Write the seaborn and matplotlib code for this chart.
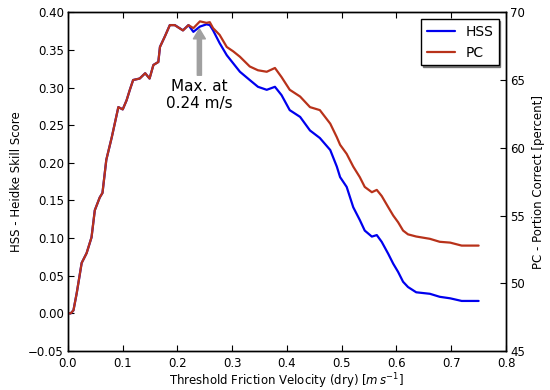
import matplotlib
matplotlib.use("Agg")
import matplotlib.pyplot as plt
import seaborn as sns
import numpy as np

sns.set_style("ticks", {"xtick.direction": "in", "ytick.direction": "in",
                        "text.color": "black", "axes.labelcolor": "black",
                        "xtick.color": "black", "ytick.color": "black"})
plt.rcParams['font.family'] = ['DejaVu Sans']

# threshold friction velocity (m/s)
u_thresh = [0.0, 0.005, 0.01, 0.016, 0.025, 0.034, 0.043, 0.049, 0.058, 0.063,
            0.07, 0.08, 0.092, 0.1, 0.107, 0.113, 0.119, 0.131, 0.141, 0.149,
            0.156, 0.165, 0.168, 0.177, 0.186, 0.195, 0.21, 0.22, 0.229, 0.241,
            0.253, 0.259, 0.265, 0.277, 0.29, 0.302, 0.314, 0.332, 0.347, 0.363,
            0.378, 0.39, 0.405, 0.424, 0.442, 0.46, 0.479, 0.491, 0.497, 0.509,
            0.521, 0.533, 0.542, 0.555, 0.564, 0.573, 0.585, 0.594, 0.603, 0.612,
            0.621, 0.636, 0.661, 0.679, 0.698, 0.719, 0.75]

# Heidke skill score
hss = [0.0, 0.0, 0.004, 0.027, 0.067, 0.08, 0.101, 0.137, 0.154, 0.16,
       0.204, 0.234, 0.274, 0.271, 0.283, 0.297, 0.31, 0.312, 0.319, 0.312,
       0.33, 0.334, 0.354, 0.368, 0.383, 0.383, 0.376, 0.383, 0.374, 0.381,
       0.384, 0.383, 0.376, 0.359, 0.343, 0.332, 0.321, 0.31, 0.301, 0.297,
       0.301, 0.29, 0.27, 0.261, 0.243, 0.233, 0.217, 0.195, 0.181, 0.168,
       0.141, 0.124, 0.11, 0.102, 0.104, 0.095, 0.079, 0.066, 0.055, 0.042,
       0.035, 0.028, 0.026, 0.022, 0.02, 0.0165, 0.0165]

# portion correct (percent)
pc = [47.78, 47.78, 48.0, 49.28, 51.5, 52.22, 53.39, 55.39, 56.33, 56.67,
      59.11, 60.78, 63.0, 62.83, 63.5, 64.28, 65.0, 65.11, 65.5, 65.11,
      66.11, 66.33, 67.44, 68.22, 69.05, 69.05, 68.66, 69.05, 68.83, 69.33,
      69.22, 69.27, 68.83, 68.33, 67.44, 67.11, 66.72, 66.0, 65.72, 65.61,
      65.89, 65.22, 64.28, 63.78, 63.0, 62.78, 61.78, 60.78, 60.22, 59.55,
      58.61, 57.83, 57.11, 56.72, 56.89, 56.44, 55.61, 55.0, 54.5, 53.89,
      53.61, 53.45, 53.28, 53.06, 53.0, 52.78, 52.78]

fig = plt.figure(figsize=(5.5, 3.9), dpi=100)
ax = fig.add_axes([0.1236, 0.1, 0.7964, 0.8685])
ax2 = ax.twinx()

sns.lineplot(x=u_thresh, y=hss, ax=ax, color="#0000ee", linewidth=1.6,
             estimator=None, sort=False, label="HSS", legend=False)
sns.lineplot(x=u_thresh, y=pc, ax=ax2, color="#b8321a", linewidth=1.6,
             estimator=None, sort=False, label="PC", legend=False)

ax.set_xlim(0.0, 0.8)
ax.set_ylim(-0.05, 0.40)
ax2.set_ylim(45, 70)
ax.set_xticks(np.arange(0, 0.81, 0.1))
ax.set_yticks(np.arange(-0.05, 0.401, 0.05))
ax2.set_yticks([45, 50, 55, 60, 65, 70])

ax.tick_params(axis="x", labelsize=8.5, length=4, width=0.8, top=True, pad=4)
ax.tick_params(axis="y", labelsize=8.5, length=4, width=0.8, pad=3)
ax2.tick_params(axis="y", labelsize=8.5, length=4, width=0.8, direction="in", pad=3)
for a in (ax, ax2):
    for s in a.spines.values():
        s.set_visible(True)
        s.set_color("black")
        s.set_linewidth(1.0)

ax.set_xlabel(r"Threshold Friction Velocity (dry) [$m\,s^{-1}$]", fontsize=8.5, labelpad=1)
ax.set_ylabel("HSS - Heidke Skill Score", fontsize=8.5, labelpad=4)
ax2.set_ylabel("PC - Portion Correct [percent]", fontsize=8.5, labelpad=5)

ax.annotate("Max. at\n0.24 m/s", xy=(0.24, 0.378), xytext=(0.24, 0.312),
            ha="center", va="top", fontsize=11,
            arrowprops=dict(facecolor="#a0a0a0", edgecolor="#a0a0a0",
                            width=3.0, headwidth=8.6, headlength=7.2, shrink=0.0))

h1, l1 = ax.get_legend_handles_labels()
h2, l2 = ax2.get_legend_handles_labels()
leg = ax2.legend(h1 + h2, l1 + l2, loc="upper right", fontsize=10,
                 shadow={"ox": 1, "oy": -1, "color": "#606060", "alpha": 0.8},
                 fancybox=False, framealpha=1, edgecolor="black",
                 borderaxespad=0.5, handlelength=2.0)
leg.get_frame().set_linewidth(1.0)

fig.savefig("out.png", dpi=100)
